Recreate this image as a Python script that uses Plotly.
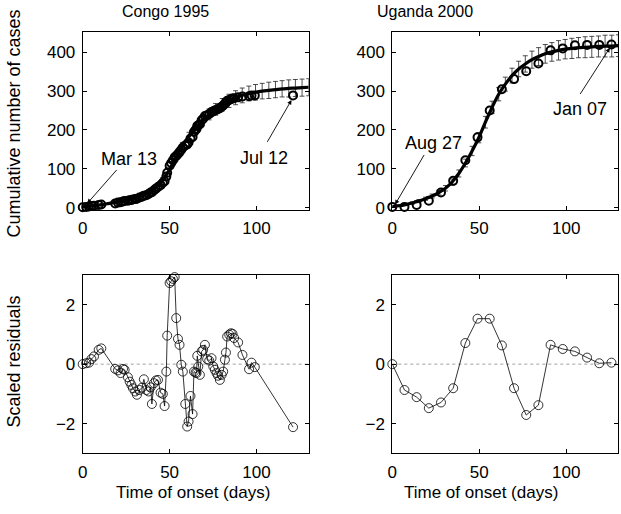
import plotly.graph_objects as go

# ---------------- data ----------------
fit_days = [0, 3.82, 7.65, 11.47, 15.29, 19.12, 22.94, 26.76, 30.59, 34.41, 38.24, 42.06,
            45.88, 49.71, 53.53, 57.35, 61.18, 65.0, 68.82, 72.65, 76.47, 80.29, 84.12,
            87.94, 91.76, 95.59, 99.41, 103.24, 107.06, 110.88, 114.71, 118.53, 122.35,
            126.18, 130.0]

congo_fit = [2, 4, 6, 8, 11, 14, 17, 21, 26, 32, 40, 52, 70, 96, 128, 158, 183, 205, 224,
             240, 253, 265, 275, 283, 289, 294, 297, 300, 302, 304, 306, 307, 308, 309, 310]
congo_err = [1, 1, 2, 2, 2, 3, 3, 3, 4, 4, 5, 6, 7, 8, 9, 10, 11, 12, 13, 14, 15, 16, 17,
             18, 19, 19, 20, 20, 21, 21, 21, 22, 22, 22, 22]

uganda_fit = [3, 5, 8, 12, 17, 23, 30, 39, 50, 66, 88, 115, 146, 180, 220, 258, 292, 318,
              340, 357, 370, 381, 389, 396, 401, 405, 408, 410, 412, 413, 414, 415, 416, 416, 417]
uganda_err = [1, 2, 2, 3, 4, 4, 5, 6, 7, 8, 9, 10, 12, 13, 15, 16, 17, 18, 19, 20, 21, 22,
              23, 24, 24, 25, 25, 26, 26, 27, 27, 27, 28, 28, 28]

congo_days = [0, 2, 3.6, 5, 6.5, 9.2, 10.7, 18.7, 20.3, 21.8, 23.2, 24.1, 26, 27, 28, 28.9,
              30.2, 31.2, 32.7, 34.1, 35.2, 36.6, 37.9, 39.1, 39.8, 41, 42.1, 43.3, 44.8,
              46.1, 47.1, 48.1, 48.6, 50, 50.9, 51.9, 52.9, 53.8, 54.8, 55.7, 56.7, 57.6,
              59, 60.1, 60.9, 62, 63.2, 64, 64.9, 65.5, 65.9, 66.5, 67.4, 68.4, 69.3, 70.3,
              71.6, 72.8, 74.1, 75.1, 76, 77, 77.9, 78.9, 79.9, 80.8, 81.8, 82.4, 83.1,
              84.3, 85.2, 86.2, 87.1, 89.4, 91.9, 95.7, 97.1, 99, 121]
congo_cases = [1, 2, 3, 4, 5, 7, 8, 11, 13, 14, 16, 17, 18, 19, 20, 21, 22, 23, 26, 28, 31,
               32, 35, 39, 40, 45, 49, 53, 58, 64, 68, 80, 90, 108, 115, 122, 130, 133, 138,
               143, 149, 155, 160, 163, 168, 178, 182, 195, 200, 203, 210, 212, 215, 225,
               229, 236, 238, 241, 246, 248, 250, 252, 254, 256, 260, 263, 268, 271, 275,
               277, 279, 281, 282, 284, 286, 287, 289, 289, 289]
congo_resid = [0, 0.03, 0.05, 0.17, 0.26, 0.48, 0.53, -0.16, -0.21, -0.3, -0.16, -0.19,
               -0.44, -0.59, -0.7, -0.81, -0.92, -1.03, -0.87, -0.79, -0.51, -0.87, -0.92,
               -0.78, -1.34, -0.64, -0.55, -0.53, -0.96, -1.0, -1.41, -0.25, 0.96, 2.73,
               2.79, 2.87, 2.93, 1.55, 0.85, 0.65, -0.02, -0.25, -1.34, -2.1, -1.93, -1.07,
               -1.68, -0.25, -0.28, -0.3, 0.28, -0.08, -0.36, 0.43, 0.48, 0.65, 0.17, 0.12,
               0.2, -0.08, -0.19, -0.3, -0.39, -0.53, -0.36, -0.25, 0.15, 0.39, 0.93, 0.99,
               1.04, 1.02, 0.88, 0.73, 0.31, -0.17, 0.05, -0.1, -2.12]

uganda_days = [0, 7, 14, 21, 28, 35, 42, 49, 56, 63, 70, 77, 84, 91, 98, 105, 112, 119, 126]
uganda_cases = [2, 2, 7, 18, 39, 69, 122, 181, 250, 305, 331, 351, 371, 405, 410, 418, 419, 419, 420]
uganda_resid = [0, -0.87, -1.11, -1.48, -1.29, -0.81, 0.71, 1.53, 1.53, 0.63, -0.81, -1.71,
                -1.38, 0.65, 0.51, 0.43, 0.22, 0.03, 0.05]

titles = ["Congo 1995", "Uganda 2000"]
top_yticks = [0, 100, 200, 300, 400]
bot_yticks = [-2, 0, 2]
xticks = [0, 50, 100]

# ---------------- figure ----------------
W, H = 621, 514
FONT = "Liberation Sans, Arial, Helvetica, sans-serif"
FS_TITLE = 16
FS_TICK = 17
FS_LABEL = 17
FS_YLABEL = 18
FS_NOTE = 18

fig = go.Figure()

def add_top(xa, ya, fit, err, days, cases):
    fig.add_trace(go.Scatter(x=fit_days, y=fit, mode="markers",
                             marker=dict(size=1, color="rgba(0,0,0,0)"),
                             error_y=dict(type="data", array=err, color="#222",
                                          thickness=0.8, width=2.5),
                             xaxis=xa, yaxis=ya, cliponaxis=False, showlegend=False,
                             hoverinfo="skip"))
    fig.add_trace(go.Scatter(x=fit_days, y=fit, mode="lines",
                             line=dict(color="black", width=3.2, shape="spline"),
                             xaxis=xa, yaxis=ya, showlegend=False))
    fig.add_trace(go.Scatter(x=days, y=cases, mode="markers",
                             marker=dict(symbol="circle-open", size=8, color="black",
                                         line=dict(width=2, color="black")),
                             xaxis=xa, yaxis=ya, cliponaxis=False, showlegend=False))

def add_bot(xa, ya, days, resid):
    fig.add_trace(go.Scatter(x=days, y=resid, mode="lines+markers",
                             line=dict(color="black", width=0.8),
                             marker=dict(symbol="circle-open", size=9, color="black",
                                         line=dict(width=0.8, color="black")),
                             xaxis=xa, yaxis=ya, cliponaxis=False, showlegend=False))

add_top("x", "y", congo_fit, congo_err, congo_days, congo_cases)
add_top("x2", "y2", uganda_fit, uganda_err, uganda_days, uganda_cases)
add_bot("x3", "y3", congo_days, congo_resid)
add_bot("x4", "y4", uganda_days, uganda_resid)

def px_x(p):
    return p / W

def px_y(p):
    return 1 - p / H

left_dom = [px_x(82.7), px_x(308.7)]
right_dom = [px_x(392.3), px_x(618.4)]
top_dom = [px_y(210), px_y(31.7)]
bot_dom = [px_y(453.3), px_y(275)]

axis_common = dict(showline=True, linecolor="black", linewidth=1, mirror="allticks",
                   ticks="inside", ticklen=4, tickwidth=0.8, tickcolor="black",
                   showgrid=False, zeroline=False, automargin=False,
                   tickfont=dict(family=FONT, size=FS_TICK, color="black"))

layout = dict(
    width=W, height=H, margin=dict(l=0, r=0, t=0, b=0, pad=0, autoexpand=False),
    paper_bgcolor="white", plot_bgcolor="white", showlegend=False,
    xaxis=dict(domain=left_dom, anchor="y", range=[0, 130], tickvals=xticks,
               ticklabelstandoff=3, **axis_common),
    yaxis=dict(domain=top_dom, anchor="x", range=[-6, 453], tickvals=top_yticks,
               ticklabelstandoff=3, **axis_common),
    xaxis2=dict(domain=right_dom, anchor="y2", range=[0, 130], tickvals=xticks,
                ticklabelstandoff=3, **axis_common),
    yaxis2=dict(domain=top_dom, anchor="x2", range=[-6, 453], tickvals=top_yticks,
                ticklabelstandoff=3, **axis_common),
    xaxis3=dict(domain=left_dom, anchor="y3", range=[0, 130], tickvals=xticks,
                ticklabelstandoff=3, **axis_common),
    yaxis3=dict(domain=bot_dom, anchor="x3", range=[-3, 3], tickvals=bot_yticks,
                ticklabelstandoff=3, tickformat="d", **axis_common),
    xaxis4=dict(domain=right_dom, anchor="y4", range=[0, 130], tickvals=xticks,
                ticklabelstandoff=3, **axis_common),
    yaxis4=dict(domain=bot_dom, anchor="x4", range=[-3, 3], tickvals=bot_yticks,
                ticklabelstandoff=3, tickformat="d", **axis_common),
)
fig.update_layout(**layout)

# dotted zero lines in residual panels
for xr, yr in (("x3", "y3"), ("x4", "y4")):
    fig.add_shape(type="line", xref=xr + " domain", yref=yr, x0=0, x1=1, y0=0, y1=0,
                  line=dict(color="#888", width=0.8, dash="dot"), layer="below")

tfont = dict(family=FONT, size=FS_TITLE, color="black")
lfont = dict(family=FONT, size=FS_LABEL, color="black")
yfont = dict(family=FONT, size=FS_YLABEL, color="black")
nfont = dict(family=FONT, size=FS_NOTE, color="black")
ann = []
# titles
ann.append(dict(text=titles[0], x=px_x(165), y=px_y(11.5), xref="paper", yref="paper",
                showarrow=False, font=tfont, xanchor="center", yanchor="middle"))
ann.append(dict(text=titles[1], x=px_x(425), y=px_y(11.5), xref="paper", yref="paper",
                showarrow=False, font=tfont, xanchor="center", yanchor="middle"))
# axis titles
ann.append(dict(text="Cumulative number of cases", x=px_x(13.5), y=px_y(124), xref="paper",
                yref="paper", showarrow=False, font=yfont, textangle=-90,
                xanchor="center", yanchor="middle"))
ann.append(dict(text="Scaled residuals", x=px_x(13.5), y=px_y(362), xref="paper",
                yref="paper", showarrow=False, font=yfont, textangle=-90,
                xanchor="center", yanchor="middle"))
ann.append(dict(text="Time of onset (days)", x=px_x(192.5), y=px_y(492), xref="paper",
                yref="paper", showarrow=False, font=lfont, xanchor="center", yanchor="middle"))
ann.append(dict(text="Time of onset (days)", x=px_x(481), y=px_y(492), xref="paper",
                yref="paper", showarrow=False, font=lfont, xanchor="center", yanchor="middle"))

# date labels and arrows
def label(xr, yr, text, tx, ty, hx, hy, sx, sy):
    ann.append(dict(text=text, x=tx, y=ty, xref=xr, yref=yr, showarrow=False, font=nfont,
                    xanchor="center", yanchor="middle"))
    ann.append(dict(text="", x=hx, y=hy, ax=sx, ay=sy, xref=xr, yref=yr, axref=xr,
                    ayref=yr, showarrow=True, arrowhead=2, arrowsize=1, arrowwidth=0.9,
                    arrowcolor="black"))

label("x", "y", "Mar 13", 26.5, 125, 2.6, 10.8, 20.3, 101)
label("x", "y", "Jul 12", 104.2, 127.6, 120.1, 277, 105.7, 165.5)
label("x2", "y2", "Aug 27", 23.9, 167.6, 1.6, 8.4, 18.8, 139.5)
label("x2", "y2", "Jan 07", 107.9, 253.3, 125.1, 411.5, 107.5, 288.8)

fig.update_layout(annotations=ann)
fig.write_html("out.html", config={"displayModeBar": False},
               post_script="document.body.style.margin='0px';"
                           "document.body.style.overflow='hidden';")
